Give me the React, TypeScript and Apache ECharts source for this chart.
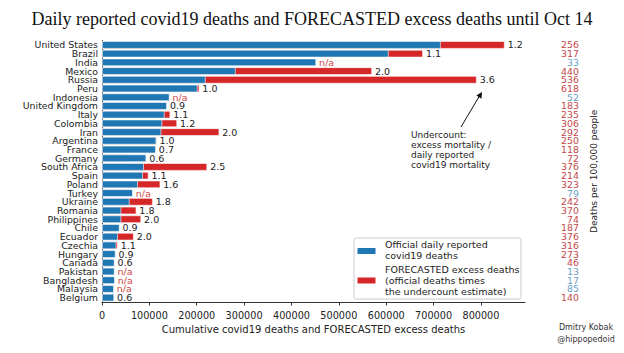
import React, { useEffect, useRef } from "react";
import * as echarts from "echarts";

const countries = [
  "United States", "Brazil", "India", "Mexico", "Russia", "Peru", "Indonesia",
  "United Kingdom", "Italy", "Colombia", "Iran", "Argentina", "France", "Germany",
  "South Africa", "Spain", "Poland", "Turkey", "Ukraine", "Romania", "Philippines",
  "Chile", "Ecuador", "Czechia", "Hungary", "Canada", "Pakistan", "Bangladesh",
  "Malaysia", "Belgium",
];

const reportedDeaths = [
  715000, 605000, 452000, 282000, 218600, 201700, 142500,
  137000, 132000, 127000, 125000, 114500, 113700, 93300,
  88300, 86200, 75600, 65000, 58000, 40500, 40500,
  37000, 33400, 30000, 28500, 26400, 26400, 27000,
  25000, 25500,
];

const excessDeaths: (number | null)[] = [
  850000, 677500, null, 570000, 791000, 205500, null,
  124000, 144000, 158500, 247500, 115000, 80000, 56000,
  222000, 98000, 123000, null, 107000, 72500, 82500,
  33500, 67000, 33000, 25500, 16000, null, null,
  null, 15300,
];

const undercountLabels = [
  "1.2", "1.1", "n/a", "2.0", "3.6", "1.0", "n/a",
  "0.9", "1.1", "1.2", "2.0", "1.0", "0.7", "0.6",
  "2.5", "1.1", "1.6", "n/a", "1.8", "1.8", "2.0",
  "0.9", "2.0", "1.1", "0.9", "0.6", "n/a", "n/a",
  "n/a", "0.6",
];

const deathsPer100k = [
  "256", "317", "33", "440", "536", "618", "52",
  "183", "235", "306", "292", "250", "118", "72",
  "376", "214", "323", "79", "242", "370", "74",
  "187", "376", "316", "273", "46", "13", "17",
  "85", "140",
];

const xTickValues = [0, 100000, 200000, 300000, 400000, 500000, 600000, 700000, 800000];

const BLUE = "#1f77b4";
const RED = "#d62728";
const NA_COLOR = "#d2473f";
const NUM_RED = "#c4484a";
const NUM_BLUE = "#6aa0c8";
const FONT = "DejaVu Sans";
const LH = 8.4;

export default function App() {
  const ref = useRef<HTMLDivElement>(null);

  useEffect(() => {
    const chart = echarts.init(ref.current!, null, { renderer: "svg" });

    const labelBase = {
      show: true,
      position: "right",
      distance: 3,
      fontSize: 9.5,
      lineHeight: LH,
      fontFamily: FONT,
    };

    const blueData = reportedDeaths.map((v, i) => {
      const r = excessDeaths[i];
      const show = r == null || r <= v;
      return {
        value: v,
        label: show
          ? {
              ...labelBase,
              formatter: undercountLabels[i],
              color: undercountLabels[i] === "n/a" ? NA_COLOR : "#222",
            }
          : { show: false },
      };
    });

    const redData = excessDeaths.map((r, i) => {
      const v = reportedDeaths[i];
      const show = r != null && r > v;
      return {
        value: r == null ? "-" : r,
        label: show
          ? { ...labelBase, formatter: undercountLabels[i], color: "#222" }
          : { show: false },
      };
    });

    const option: any = {
      animation: false,
      backgroundColor: "#fff",
      title: {
        text: "Daily reported covid19 deaths and FORECASTED excess deaths until Oct 14",
        left: "center",
        top: 5,
        textStyle: {
          fontFamily: "Liberation Serif",
          fontSize: 18,
          fontWeight: "normal",
          color: "#111",
        },
      },
      grid: { left: 102, right: 99, top: 40.6, height: 261.4 },
      xAxis: {
        type: "value",
        min: 0,
        max: 893000,
        interval: 100000,
        splitLine: { show: false },
        axisLine: { show: true, lineStyle: { color: "#333", width: 1 } },
        axisTick: {
          show: true,
          length: 3.5,
          lineStyle: { color: "#333" },
          customValues: xTickValues,
        },
        axisLabel: {
          customValues: xTickValues,
          margin: 8,
          fontSize: 9.7,
          fontFamily: FONT,
          color: "#222",
          formatter: (v: number) => String(v),
        },
        name: "Cumulative covid19 deaths and FORECASTED excess deaths",
        nameLocation: "middle",
        nameGap: 22,
        nameTextStyle: { fontSize: 10, fontFamily: FONT, color: "#222" },
      },
      yAxis: [
        {
          type: "category",
          data: countries,
          inverse: true,
          axisLine: { show: true, lineStyle: { color: "#333", width: 1 } },
          axisTick: { show: false },
          axisLabel: {
            interval: 0,
            margin: 4,
            fontSize: 9.4,
            lineHeight: LH,
            fontFamily: FONT,
            color: "#222",
          },
        },
        {
          type: "category",
          data: deathsPer100k,
          inverse: true,
          position: "right",
          axisLine: { show: false },
          axisTick: { show: false },
          axisLabel: {
            interval: 0,
            align: "right",
            margin: 54,
            fontSize: 9.4,
            lineHeight: LH,
            fontFamily: FONT,
            formatter: (v: string) => {
              const idx = deathsPer100k.indexOf(v);
              return excessDeaths[idx] == null ? `{b|${v}}` : `{r|${v}}`;
            },
            rich: {
              r: { color: NUM_RED, fontSize: 9.4, lineHeight: LH, fontFamily: FONT },
              b: { color: NUM_BLUE, fontSize: 9.4, lineHeight: LH, fontFamily: FONT },
            },
          },
          name: "Deaths per 100,000 people",
          nameLocation: "middle",
          nameRotate: 90,
          nameGap: 60,
          nameTextStyle: { fontSize: 9, fontFamily: FONT, color: "#222" },
        },
      ],
      series: [
        {
          name: "FORECASTED excess deaths",
          type: "bar",
          yAxisIndex: 0,
          data: redData,
          barWidth: "86%",
          barGap: "-100%",
          itemStyle: { color: RED, borderColor: "#fff", borderWidth: 0.6 },
        },
        {
          name: "Official daily reported covid19 deaths",
          type: "bar",
          yAxisIndex: 0,
          data: blueData,
          barWidth: "86%",
          barGap: "-100%",
          itemStyle: { color: BLUE, borderColor: "#fff", borderWidth: 0.6 },
        },
      ],
      graphic: [
        {
          type: "rect",
          shape: { x: 354, y: 238, width: 167, height: 61, r: 2 },
          style: { fill: "rgba(255,255,255,0.85)", stroke: "#ccc", lineWidth: 1 },
          z: 100,
        },
        {
          type: "rect",
          shape: { x: 357.5, y: 248, width: 18, height: 6 },
          style: { fill: BLUE },
          z: 101,
        },
        {
          type: "rect",
          shape: { x: 357.5, y: 277.5, width: 18, height: 6 },
          style: { fill: RED },
          z: 101,
        },
        {
          type: "text",
          x: 385,
          y: 239.5,
          style: {
            text: "Official daily reported\ncovid19 deaths",
            font: `9.5px '${FONT}'`,
            lineHeight: 10.5,
            fill: "#222",
            verticalAlign: "top",
          },
          z: 101,
        },
        {
          type: "text",
          x: 385,
          y: 264,
          style: {
            text: "FORECASTED excess deaths\n(official deaths times\nthe undercount estimate)",
            font: `9.5px '${FONT}'`,
            lineHeight: 10.8,
            fill: "#222",
            verticalAlign: "top",
          },
          z: 101,
        },
        {
          type: "text",
          x: 411,
          y: 130,
          style: {
            text: "Undercount:\nexcess mortality /\ndaily reported\ncovid19 mortality",
            font: `9px '${FONT}'`,
            lineHeight: 10,
            fill: "#222",
            verticalAlign: "top",
          },
        },
        {
          type: "line",
          shape: { x1: 461, y1: 127, x2: 480, y2: 95 },
          style: { stroke: "#111", lineWidth: 1 },
        },
        {
          type: "polygon",
          shape: { points: [[482, 92], [481.5, 98.7], [476.3, 95.6]] },
          style: { fill: "#111" },
        },
        {
          type: "text",
          x: 586,
          y: 321.5,
          style: {
            text: "Dmitry Kobak\n@hippopedoid",
            font: `8px '${FONT}'`,
            lineHeight: 12,
            fill: "#333",
            align: "center",
            verticalAlign: "top",
          },
        },
      ],
    };

    chart.setOption(option);
    return () => chart.dispose();
  }, []);

  return (
    <div
      ref={ref}
      style={{ position: "fixed", left: 0, top: 0, width: 624, height: 353 }}
    />
  );
}
